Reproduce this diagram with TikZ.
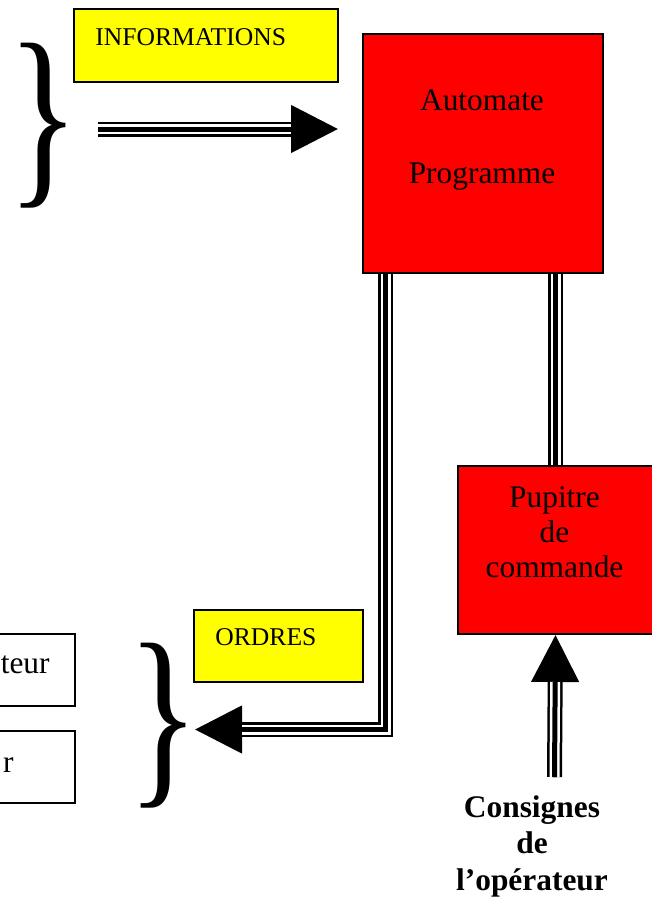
\documentclass[tikz,border=0pt]{standalone}
\usepackage{fontspec}
\setmainfont{Liberation Serif}
\usepackage{graphicx}
\usetikzlibrary{arrows.meta}

\definecolor{boxred}{RGB}{255,0,0}
\definecolor{boxyellow}{RGB}{255,255,0}

\tikzset{
	redbox/.style={draw, line width=1pt, fill=boxred, anchor=north west, inner sep=0pt},
	yellowbox/.style={draw, line width=1pt, fill=boxyellow, anchor=north west, inner sep=0pt},
	whitebox/.style={draw, line width=1pt, fill=white, anchor=north west, inner sep=0pt},
	tripleline/.style={draw=white, line width=5pt, preaction={draw=black, line width=7.5pt}, postaction={draw=black, line width=2.5pt}},
	bigtip/.style={line width=2.5pt, -{Triangle[length=23.5pt,width=23.5pt]}},
	bigtext/.style={font=\fontsize{15.7}{18}\selectfont, anchor=base, inner sep=0pt},
	smalltext/.style={font=\fontsize{12.8}{15}\selectfont, anchor=base west, inner sep=0pt},
}

\begin{document}
\begin{tikzpicture}[x=0.5pt, y=-0.5pt]
	\useasboundingbox (0,0) rectangle (652,905);
	% boxes
	\node[redbox, minimum width=120pt, minimum height=119.5pt] (automate) at (362,33) {};
	\node[bigtext] (automatetxt) at (482,110) {Automate};
	\node[bigtext] (programmetxt) at (482,183) {Programme};
	\node[redbox, minimum width=97.5pt, minimum height=84pt] (pupitre) at (457,465) {};
	\node[bigtext] (pupitretxt) at (554.5,507) {Pupitre};
	\node[bigtext] (detxt) at (554.5,542) {de};
	\node[bigtext] (commandetxt) at (554.5,577) {commande};
	\node[yellowbox, minimum width=132pt, minimum height=36.5pt] (info) at (73,8) {};
	\node[smalltext] (infotxt) at (95,45) {INFORMATIONS};
	\node[yellowbox, minimum width=84.5pt, minimum height=36pt] (ordres) at (193,609) {};
	\node[smalltext] (ordrestxt) at (215,645) {ORDRES};
	\node[whitebox, minimum width=67pt, minimum height=36pt] (sortie1) at (-60,633) {};
	\node[bigtext, anchor=base east] (sortie1txt) at (50,673) {teur};
	\node[whitebox, minimum width=67pt, minimum height=36pt] (sortie2) at (-60,730) {};
	\node[bigtext, anchor=base east] (sortie2txt) at (14,772) {r};
	% braces
	\node[inner sep=0pt] (infobrace) at (44,125.5) {\resizebox*{36pt}{82.5pt}{\}}};
	\node[inner sep=0pt] (ordbrace) at (164,725.5) {\resizebox*{36pt}{82.5pt}{\}}};
	% operator text
	\node[bigtext, font=\fontsize{15.7}{18}\selectfont\bfseries] (cons1) at (532,817) {Consignes};
	\node[bigtext, font=\fontsize{15.7}{18}\selectfont\bfseries] (cons2) at (532,853) {de};
	\node[bigtext, font=\fontsize{15.7}{18}\selectfont\bfseries] (cons3) at (532,890) {l’opérateur};
	% connectors
	\coordinate (infostart) at (98,129);
	\coordinate (ordend) at (195,729.5);
	\coordinate (consstart) at (554.5,777);
	\draw[bigtip, shorten >=12pt] (infostart) -- (automate.west |- infostart);
	\draw[tripleline, shorten >=35.5pt] (infostart) -- (automate.west |- infostart);
	\draw[bigtip] (automate.south west) ++(23.5,0) |- (ordend);
	\draw[tripleline, shorten >=23.5pt] (automate.south west) ++(23.5,0) |- (ordend);
	\draw[tripleline] (pupitre.north) -- (pupitre.north |- automate.south);
	\draw[bigtip] (consstart) -- (pupitre.south);
	\draw[tripleline, shorten >=23.5pt] (consstart) -- (pupitre.south);
\end{tikzpicture}
\end{document}
